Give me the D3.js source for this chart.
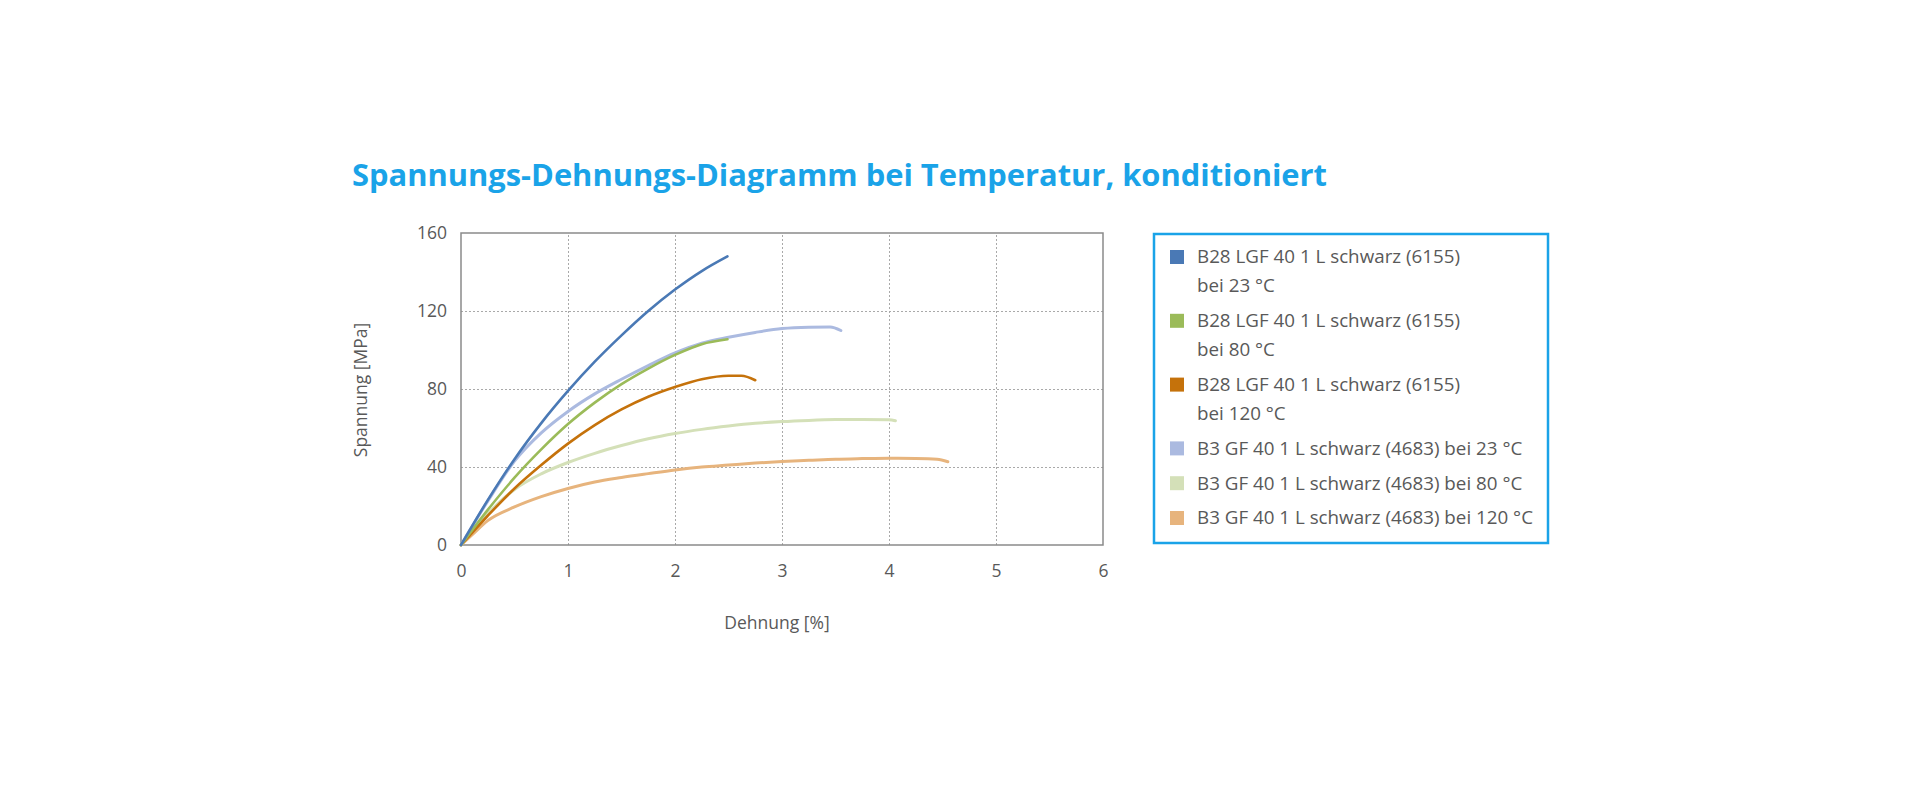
<!DOCTYPE html>
<html>
<head>
<meta charset="utf-8">
<script src="https://cdn.jsdelivr.net/npm/d3@7"></script>
<style>
  body { margin: 0; background: #fff; }
  svg { display: block; }
  text { font-family: "Open Sans", "Noto Sans", sans-serif; fill: #595959; }
</style>
</head>
<body>
<svg id="chart"></svg>
<script>
const chartTitle = "Spannungs-Dehnungs-Diagramm bei Temperatur, konditioniert";
const xTitle = "Dehnung [%]";
const yTitle = "Spannung [MPa]";
const xTicks = [0, 1, 2, 3, 4, 5, 6];
const yTicks = [0, 40, 80, 120, 160];

const seriesNames = [
    ["B28 LGF 40 1 L schwarz (6155)", "bei 23 °C"],
    ["B28 LGF 40 1 L schwarz (6155)", "bei 80 °C"],
    ["B28 LGF 40 1 L schwarz (6155)", "bei 120 °C"],
    ["B3 GF 40 1 L schwarz (4683) bei 23 °C"],
    ["B3 GF 40 1 L schwarz (4683) bei 80 °C"],
    ["B3 GF 40 1 L schwarz (4683) bei 120 °C"]
];

// [Dehnung %, Spannung MPa]
const b28At23 = [[0,0],[0.25,23],[0.5,44],[0.75,62.5],[1,79],[1.25,94],[1.5,107.5],[1.75,120],[2,131],[2.25,140.5],[2.49,148]];
const b28At80 = [[0,0],[0.25,18],[0.5,34.5],[0.75,49],[1,62],[1.25,73],[1.5,82.5],[1.75,90.5],[2,97.5],[2.25,103],[2.49,105.5]];
const b28At120 = [[0,0],[0.25,15],[0.5,29],[0.75,41],[1,52],[1.25,61.5],[1.5,69.5],[1.75,76],[2,81],[2.25,85],[2.5,86.8],[2.62,86.8],[2.75,84.5]];
const b3At23 = [[0,0],[0.25,22.5],[0.5,43],[0.75,57.5],[1,68.5],[1.25,77.5],[1.5,85],[1.75,92],[2,98.5],[2.25,103.5],[2.5,106.5],[2.75,109],[3,111],[3.25,111.7],[3.45,111.8],[3.55,110]];
const b3At80 = [[0,0],[0.25,16],[0.5,28.5],[0.75,36.5],[1,42.3],[1.25,47],[1.5,51],[1.75,54.5],[2,57.2],[2.25,59.3],[2.5,61],[2.75,62.4],[3,63.3],[3.25,63.9],[3.5,64.3],[3.75,64.4],[4,64.2],[4.06,63.7]];
const b3At120 = [[0,0],[0.1,5],[0.25,12.5],[0.5,19.5],[0.75,24.8],[1,29],[1.25,32.3],[1.5,34.6],[1.75,36.6],[2,38.5],[2.25,40],[2.5,41],[2.75,42],[3,42.8],[3.25,43.4],[3.5,44],[3.75,44.3],[4,44.5],[4.25,44.4],[4.45,44],[4.55,42.7]];

const seriesData = [b28At23, b28At80, b28At120, b3At23, b3At80, b3At120];
const seriesColors = ["#4a79b5", "#9bbb59", "#c5720b", "#abbae0", "#d4e0b8", "#e7b47d"];
const seriesWidths = [2.6, 2.6, 2.6, 3, 3, 3];

const W = 1920, H = 787;
const plot = {left: 461, right: 1103, top: 233, bottom: 545};

const svg = d3.select("#chart").attr("width", W).attr("height", H);

svg.append("text")
    .attr("x", 352)
    .attr("y", 186)
    .attr("textLength", 975)
    .attr("lengthAdjust", "spacingAndGlyphs")
    .style("font-size", "31px")
    .style("font-weight", 700)
    .style("fill", "#1aa3e8")
    .text(chartTitle);

var x = d3.scaleLinear().domain([0, 6]).range([plot.left, plot.right]);
var y = d3.scaleLinear().domain([0, 160]).range([plot.bottom, plot.top]);

// gridlines
svg.append("g")
    .attr("class", "grid")
    .attr("transform", "translate(0," + plot.bottom + ")")
    .call(d3.axisBottom(x).tickValues(xTicks.slice(1, -1)).tickSize(-(plot.bottom - plot.top)).tickFormat(""))
    .call(g => g.select(".domain").remove());

svg.append("g")
    .attr("class", "grid")
    .attr("transform", "translate(" + plot.left + ",0)")
    .call(d3.axisLeft(y).tickValues(yTicks.slice(1, -1)).tickSize(-(plot.right - plot.left)).tickFormat(""))
    .call(g => g.select(".domain").remove());

svg.selectAll(".grid line")
    .attr("stroke", "#a9a9a9")
    .attr("stroke-width", 1)
    .attr("stroke-dasharray", "2,2");

// axes labels
var xAxis = svg.append("g")
    .attr("transform", "translate(0," + plot.bottom + ")")
    .call(d3.axisBottom(x).tickValues(xTicks).tickFormat(d3.format("d")).tickSize(0).tickPadding(20));
var yAxis = svg.append("g")
    .attr("transform", "translate(" + plot.left + ",0)")
    .call(d3.axisLeft(y).tickValues(yTicks).tickFormat(d3.format("d")).tickSize(0).tickPadding(14));
[xAxis, yAxis].forEach(function(a) {
    a.select(".domain").remove();
    a.selectAll("text")
        .style("font-family", "'Open Sans', sans-serif")
        .style("font-size", "17.5px")
        .style("fill", "#595959");
});

// plot border
svg.append("rect")
    .attr("x", plot.left)
    .attr("y", plot.top)
    .attr("width", plot.right - plot.left)
    .attr("height", plot.bottom - plot.top)
    .attr("fill", "none")
    .attr("stroke", "#8a8a8a")
    .attr("stroke-width", 1.5);

var line = d3.line()
    .x(function(d) { return x(d[0]); })
    .y(function(d) { return y(d[1]); })
    .curve(d3.curveMonotoneX);

// light ones first so the darker lines stay on top
var drawOrder = [5, 4, 3, 2, 1, 0];
drawOrder.forEach(function(i) {
    svg.append("path")
        .attr("d", line(seriesData[i]))
        .attr("fill", "none")
        .attr("stroke", seriesColors[i])
        .attr("stroke-width", seriesWidths[i])
        .attr("stroke-linecap", "round");
});

svg.append("text")
    .attr("x", 777)
    .attr("y", 629)
    .attr("text-anchor", "middle")
    .style("font-size", "17.5px")
    .text(xTitle);

svg.append("text")
    .attr("transform", "translate(367,390) rotate(-90)")
    .attr("text-anchor", "middle")
    .style("font-size", "17.5px")
    .text(yTitle);

// legend
var legend = svg.append("g");
legend.append("rect")
    .attr("x", 1154)
    .attr("y", 234)
    .attr("width", 394)
    .attr("height", 309)
    .attr("fill", "#fff")
    .attr("stroke", "#1aa3e8")
    .attr("stroke-width", 2.5);

var lineGap = 29, itemGap = 34.8;
var rowY = 257;
var legendTexts = [];
seriesNames.forEach(function(lines, i) {
    legend.append("rect")
        .attr("x", 1170)
        .attr("y", rowY - 7)
        .attr("width", 14)
        .attr("height", 14)
        .attr("fill", seriesColors[i]);
    lines.forEach(function(t, j) {
        legendTexts.push(legend.append("text")
            .attr("x", 1197)
            .attr("y", rowY + j * lineGap)
            .attr("dy", "0.35em")
            .style("font-size", "18px")
            .text(t));
    });
    rowY += (lines.length - 1) * lineGap + itemGap;
});

// stretch legend text a little so the longest line fills the box like the original
var longest = d3.max(legendTexts, function(t) { return t.node().getComputedTextLength(); });
var stretch = 336 / longest;
legendTexts.forEach(function(t) {
    t.attr("textLength", t.node().getComputedTextLength() * stretch)
        .attr("lengthAdjust", "spacingAndGlyphs");
});
</script>
</body>
</html>
